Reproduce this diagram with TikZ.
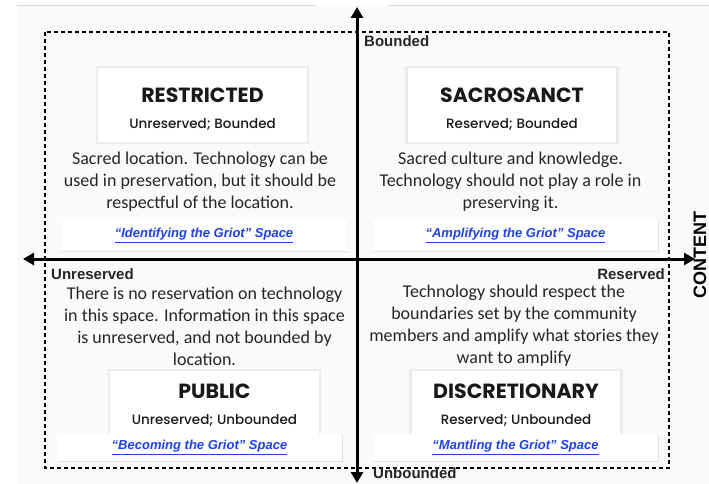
\documentclass[tikz,border=0pt]{standalone}
\usepackage{fontspec}
\setmainfont{Carlito}
\newfontfamily\titlefont{Poppins}
\IfFontExistsTF{Poppins Medium}{\newfontfamily\subfont{Poppins Medium}}{\newfontfamily\subfont{Poppins}}
\newfontfamily\arialfont{Liberation Sans}
\usetikzlibrary{arrows.meta, positioning, shadows}
\definecolor{griotblue}{HTML}{1F42E8}
\definecolor{boxgray}{HTML}{ECECEC}
\definecolor{paper}{HTML}{FAFAFA}
\tikzset{
  titlebox/.style={draw=boxgray, line width=2.5pt, fill=white,
    minimum width=211pt, inner sep=0pt},
  titletext/.style={align=center, inner sep=0pt, text=black!90},
  linkbox/.style={fill=white, minimum width=285pt, inner sep=0pt,
    drop shadow={shadow xshift=0.6pt, shadow yshift=-1.2pt, opacity=0.2},
    font=\arialfont\bfseries\itshape\fontsize{13}{15}\selectfont, text=griotblue},
  desc/.style={align=center, inner sep=0pt, text=black!85,
    font=\fontsize{18}{22}\selectfont},
  axislabel/.style={inner sep=0pt, text=black!85,
    font=\arialfont\bfseries\fontsize{15}{18}\selectfont},
  axisline/.style={line width=3pt, {Triangle[length=11pt,width=12pt]}-{Triangle[length=11pt,width=12pt]}}
}
\newcommand{\qtitle}[2]{{\titlefont\bfseries\fontsize{20.5}{24}\selectfont #1}\\[14pt]{\subfont\fontsize{13.5}{16}\selectfont #2}}

\begin{document}
\begin{tikzpicture}[x=1pt, y=-1pt]
  \useasboundingbox (0,0) rectangle (709,484);
  % page and frame
  \fill[paper] (17,5) rectangle (709,484);
  \draw[black!15, line width=0.8pt] (17,5) -- (316,5);
  \draw[black!15, line width=0.8pt] (388,5) -- (709,5);
  \draw[line width=1.3pt, dash pattern=on 4pt off 3pt] (45,32) rectangle (669,468);

  % top left quadrant
  \node[titlebox, minimum height=76pt] (restricted) at (202.5,105) {};
  \node[titletext] (restrictedlbl) at ([yshift=-4.5pt]restricted.center) {\qtitle{RESTRICTED}{Unreserved; Bounded}};
  \node[desc] (restrictedtxt) at (200,182) {Sacred location. Technology can be\\used in preservation, but it should be\\respectful of the location.};
  \node[linkbox, minimum height=31pt] (identify) at (204,235.5) {\underline{“Identifying the Griot” Space}};

  % top right quadrant
  \node[titlebox, minimum height=76pt] (sacrosanct) at (512,105) {};
  \node[titletext] (sacrosanctlbl) at ([yshift=-4.5pt]sacrosanct.center) {\qtitle{SACROSANCT}{Reserved; Bounded}};
  \node[desc] (sacrosancttxt) at (510.5,182) {Sacred culture and knowledge.\\Technology should not play a role in\\preserving it.};
  \node[linkbox, minimum height=31pt] (amplify) at (515.5,235.5) {\underline{“Amplifying the Griot” Space}};

  % bottom left quadrant
  \node[desc] (publictxt) at (204.5,326) {There is no reservation on technology\\in this space. Information in this space\\is unreserved, and not bounded by\\location.};
  \node[titlebox, minimum height=66pt] (public) at (214.5,403) {};
  \node[titletext] (publiclbl) at ([yshift=-2.5pt]public.center) {\qtitle{PUBLIC}{Unreserved; Unbounded}};
  \node[linkbox, minimum height=27pt] (becoming) at (199.5,447.5) {\underline{“Becoming the Griot” Space}};

  % bottom right quadrant
  \node[desc] (discretiontxt) at (514,326) {Technology should respect the\\boundaries set by the community\\members and amplify what stories they\\want to amplify};
  \node[titlebox, minimum height=66pt] (discretionary) at (516,403) {};
  \node[titletext] (discretionarylbl) at ([yshift=-2.5pt]discretionary.center) {\qtitle{DISCRETIONARY}{Reserved; Unbounded}};
  \node[linkbox, minimum height=27pt] (mantling) at (515.5,447.5) {\underline{“Mantling the Griot” Space}};

  % axes
  \coordinate (north) at (357,7);
  \coordinate (south) at (357,483);
  \coordinate (west) at (23,259);
  \coordinate (east) at (695,259);
  \draw[axisline] (west) -- (east);
  \draw[axisline] (south) -- (north);

  \node[axislabel, anchor=base west] (bounded) at (364,47) {Bounded};
  \node[axislabel, anchor=base west] (unbounded) at (373,478) {Unbounded};
  \node[axislabel, anchor=base west] (unreserved) at (51,279) {Unreserved};
  \node[axislabel, anchor=base east] (reserved) at (665,279) {Reserved};
  \node[inner sep=0pt, rotate=90, font=\arialfont\bfseries\fontsize{18}{20}\selectfont] (content) at (700,255) {CONTENT};
\end{tikzpicture}
\end{document}
